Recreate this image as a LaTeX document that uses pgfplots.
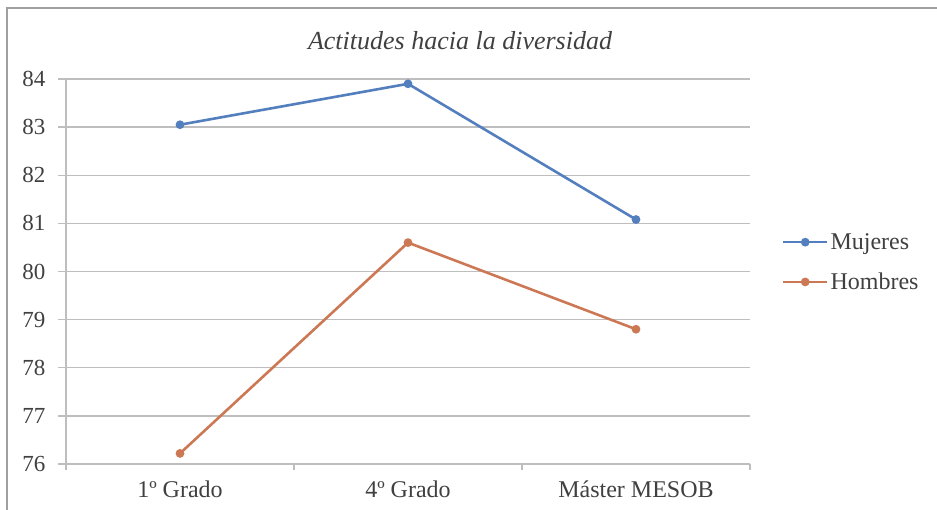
\documentclass[border=0pt]{standalone}
\usepackage{pgfplots}
\pgfplotsset{compat=1.18}
\usepackage{fontspec}
\setmainfont{Liberation Serif}
\definecolor{cblue}{RGB}{84,127,190}
\definecolor{corange}{RGB}{205,120,84}
\definecolor{cgrid}{RGB}{190,190,190}
\definecolor{ctext}{RGB}{64,64,64}
\begin{document}
\begin{tikzpicture}[x=1pt,y=1pt]
\useasboundingbox (0,0) rectangle (937,510);
\draw[color={rgb,255:red,160;green,160;blue,160}, line width=1.4pt] (7,0) -- (7,502) -- (937,502);
\node[font=\fontsize{26}{28}\selectfont\itshape, text=ctext] at (460,469) {Actitudes hacia la diversidad};
\begin{axis}[
  at={(66pt,46pt)}, anchor=south west,
  scale only axis, width=684pt, height=385pt,
  xmin=-0.5, xmax=2.5, ymin=76, ymax=84,
  ytick={76,77,...,84},
  xtick={0,1,2},
  xticklabels={1º Grado, 4º Grado, Máster MESOB},
  minor xtick={-0.5,0.5,1.5,2.5},
  axis x line*=bottom, axis y line*=left,
  axis line style={draw=cgrid, line width=1.4pt},
  ymajorgrids, grid style={cgrid, line width=1.4pt},
  tick align=outside,
  major tick length=8pt, minor tick length=6pt,
  major x tick style={draw=none},
  minor x tick style={cgrid, line width=1.4pt},
  ytick style={cgrid, line width=1.4pt},
  ticklabel style={text=ctext},
  yticklabel style={font=\fontsize{23}{25}\selectfont, xshift=-9pt},
  xticklabel style={font=\fontsize{24}{26}\selectfont, yshift=-5pt},
  /pgf/number format/assume math mode=true,
  legend style={at={(1.042,0.524)}, anchor=west, draw=none, fill=none,
    font=\fontsize{24}{26}\selectfont, text=ctext, row sep=18pt},
  legend cell align=left,
  legend image code/.code={\draw[#1, line width=2.6pt] (0pt,0pt) -- (44pt,0pt); \fill[#1] (22pt,0pt) circle (3pt);},
  clip=false,
]
\addplot[cblue, line width=2.6pt, mark=*, mark size=3pt] coordinates {(0,83.05) (1,83.90) (2,81.08)};
\addlegendentry{Mujeres}
\addplot[corange, line width=2.6pt, mark=*, mark size=3pt] coordinates {(0,76.22) (1,80.60) (2,78.80)};
\addlegendentry{Hombres}
\end{axis}
\end{tikzpicture}
\end{document}
